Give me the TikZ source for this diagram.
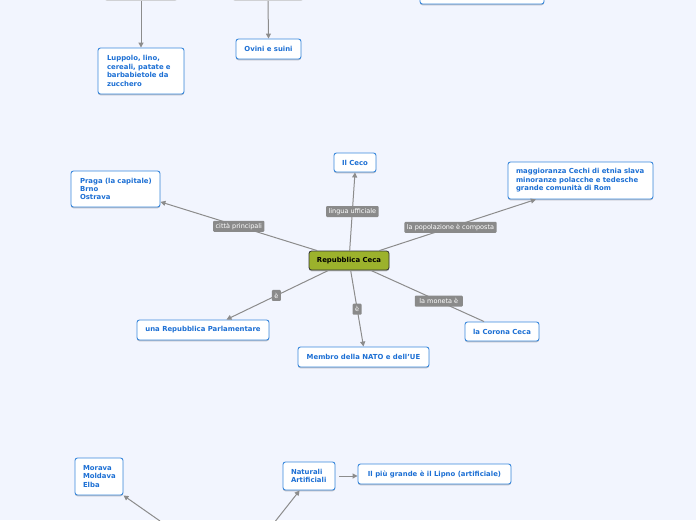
\documentclass[tikz,border=0pt]{standalone}
\usepackage{fontspec}
\setmainfont{DejaVu Sans}
\usetikzlibrary{shadows,arrows.meta}
\definecolor{bg}{HTML}{F2F5FE}
\definecolor{nodeblue}{HTML}{3A88DC}
\definecolor{textblue}{HTML}{1C6FD4}
\definecolor{olive}{HTML}{9CB22C}
\definecolor{lblgray}{HTML}{8A8A8A}
\definecolor{linegray}{HTML}{8C8C8C}
\begin{document}
\begin{tikzpicture}[x=1pt,y=-1pt,
  topic/.style={draw=nodeblue, line width=0.9pt, fill=white, rounded corners=2.5pt,
    text=textblue, font=\fontsize{6.9}{8.4}\selectfont\bfseries, inner sep=0pt,
    drop shadow={shadow xshift=0pt, shadow yshift=-1.3pt, fill=black, opacity=0.22}},
  multi/.style={topic, align=left, inner xsep=#1},
  central/.style={draw=black!80, line width=0.8pt, fill=olive, rounded corners=2.5pt,
    font=\fontsize{6.9}{8}\selectfont\bfseries, inner sep=0pt, minimum width=80, minimum height=19,
    drop shadow={shadow xshift=0pt, shadow yshift=-1.3pt, fill=black, opacity=0.22}},
  lbl/.style={fill=lblgray, text=white, font=\fontsize{6.5}{7}\selectfont, rounded corners=1pt,
    inner xsep=2.5pt, inner ysep=0pt, minimum height=11},
  conn/.style={draw=linegray, line width=1pt},
  arr/.style={conn, -{Triangle[length=5pt,width=5pt]}},
  grayedge/.style={fill=black!25, rounded corners=2pt, inner sep=0pt}
]
\fill[bg] (0,0) rectangle (696,520);
\useasboundingbox (0,0) rectangle (696,520);

% top partial boxes
\node[grayedge, minimum width=72, minimum height=20] (t1) at (141,-9.3) {};
\node[grayedge, minimum width=70, minimum height=20] (t2) at (268,-9.3) {};
\node[topic, minimum width=124, minimum height=24] (t3) at (482,-8) {};

\node[multi=9pt, text width=68pt, minimum height=46] (lupp) at (141,71) {\mbox{Luppolo, lino,}\\\mbox{cereali, patate e}\\\mbox{barbabietole da}\\\mbox{zucchero}};
\node[topic, minimum width=65, minimum height=20] (ovini) at (268.5,49) {Ovini e suini};

% centre
\node[central] (rc) at (349,260.5) {Repubblica Ceca};
\node[topic, minimum width=42, minimum height=19] (ceco) at (355,162.5) {Il Ceco};
\node[multi=9pt, text width=71pt, minimum height=36] (praga) at (115.5,189) {\mbox{Praga (la capitale)}\\\mbox{Brno}\\\mbox{Ostrava}};
\node[multi=8pt, text width=129pt, minimum height=37] (magg) at (580.5,180.5) {\mbox{maggioranza Cechi di etnia slava}\\\mbox{minoranze polacche e tedesche}\\\mbox{grande comunità di Rom}};
\node[topic, minimum width=132, minimum height=20] (repub) at (203,330) {una Repubblica Parlamentare};
\node[topic, minimum width=131, minimum height=20] (membro) at (363.5,357) {Membro della NATO e dell'UE};
\node[topic, minimum width=74, minimum height=19] (corona) at (502,331.5) {la Corona Ceca};

% bottom
\node[multi=8pt, text width=32pt, minimum height=37] (morava) at (99,476.5) {\mbox{Morava}\\\mbox{Moldava}\\\mbox{Elba}};
\node[multi=8pt, text width=36pt, minimum height=28] (nat) at (309,476) {\mbox{Naturali}\\\mbox{Artificiali}};
\node[topic, minimum width=153, minimum height=20] (lipno) at (434.5,474) {Il più grande è il Lipno (artificiale)};
\coordinate (b1) at (160,521);
\coordinate (b2) at (275.5,521);

% connectors
\draw[arr] (t1.south) -- (lupp.north);
\draw[arr] (t2.south) -- (ovini.north);
\draw[arr] (rc) -- (ceco.south) node[lbl, pos=0.5] {lingua ufficiale};
\draw[arr] (rc) -- (praga.-16) node[lbl, pos=0.5] {città principali};
\draw[arr] (rc) -- (magg.203) node[lbl, pos=0.455] {la popolazione è composta};
\draw[arr] (rc) -- (repub.24) node[lbl, pos=0.51] {è};
\draw[arr] (rc) -- (membro.north) node[lbl, pos=0.51] {è};
\draw[conn] (rc) -- (corona.151) node[lbl, pos=0.6, minimum width=48] {la moneta è};
\draw[arr] (b1) -- (morava.south east);
\draw[arr] (b2) -- (nat.-123);
\draw[arr, shorten <=4pt] (nat.east) -- (nat.east -| lipno.west);
\end{tikzpicture}
\end{document}
